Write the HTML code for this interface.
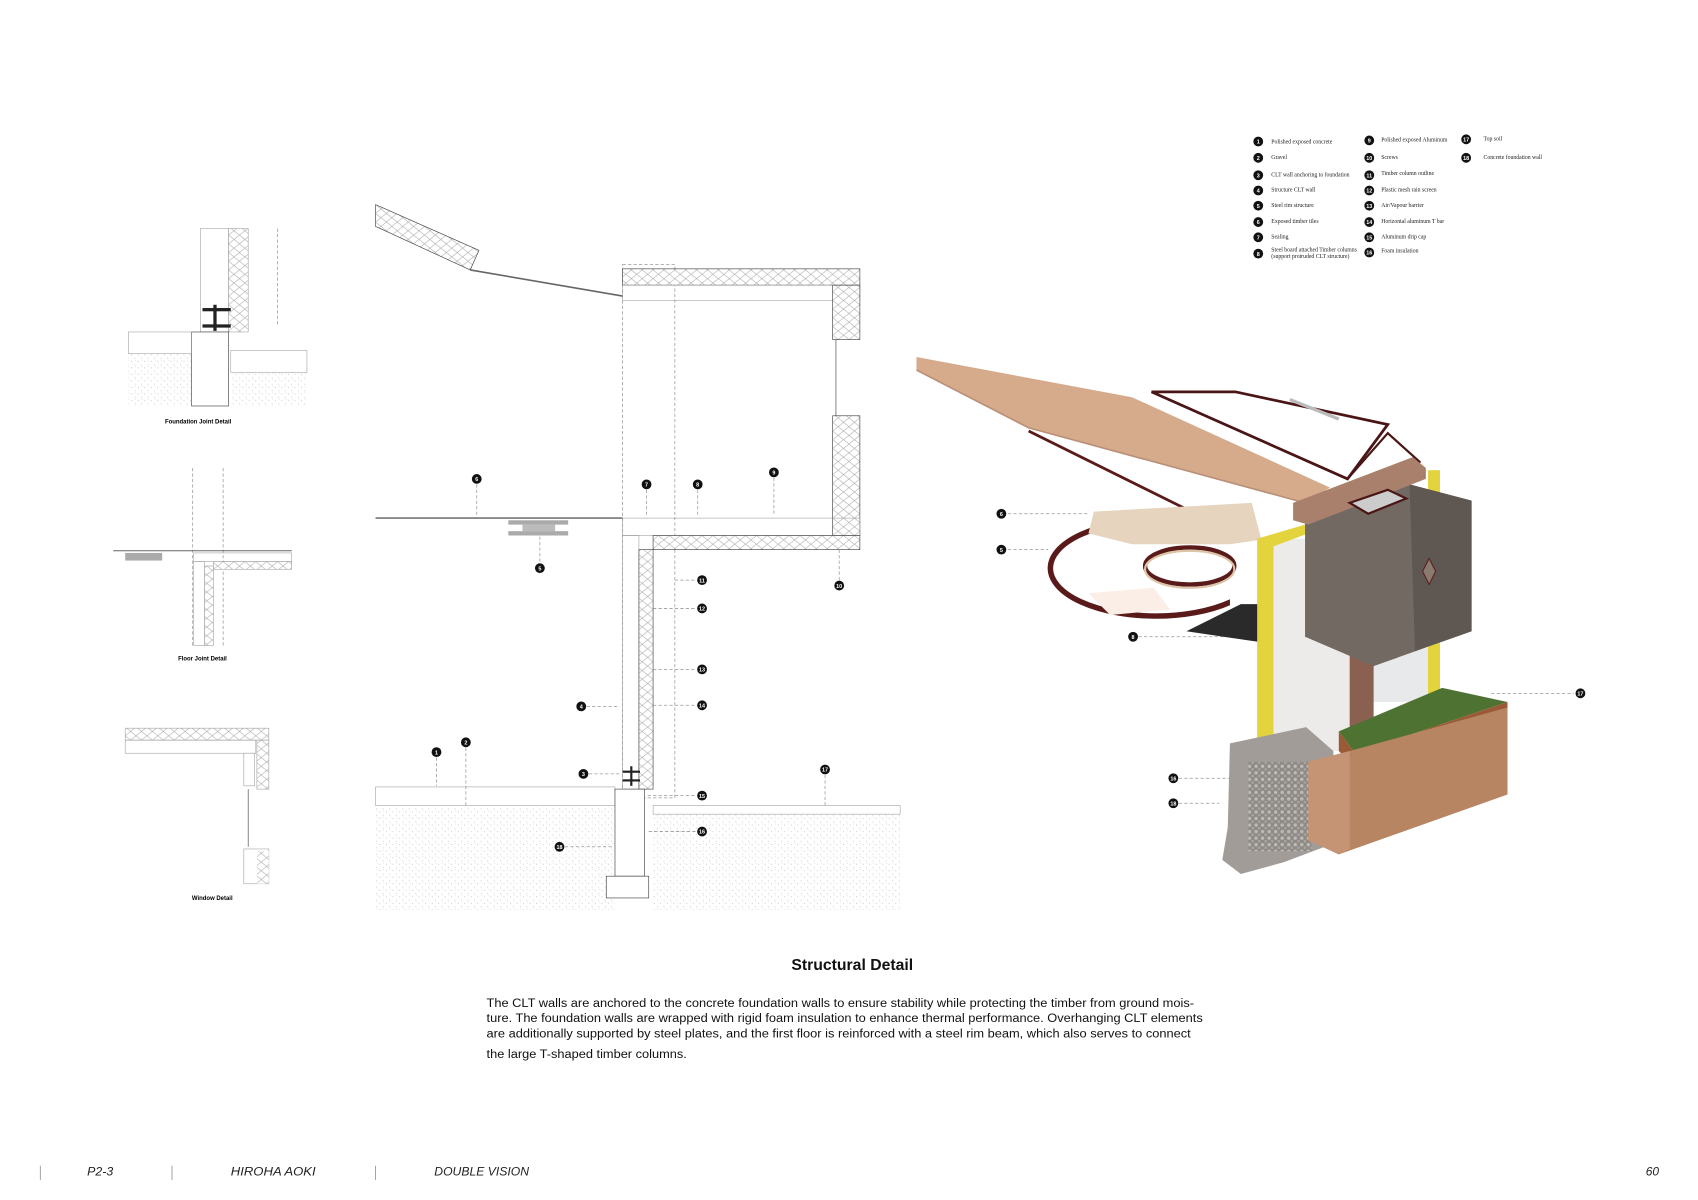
<!DOCTYPE html>
<html><head><meta charset="utf-8"><style>
html,body{margin:0;padding:0;background:#fff;}
svg{display:block;}
text{font-family:"Liberation Sans",sans-serif;}
.lg text{font-family:"Liberation Serif",serif;font-size:5.3px;fill:#222;}
.n text{font-family:"Liberation Sans",sans-serif;font-size:5px;fill:#fff;font-weight:bold;text-anchor:middle;}
.l{stroke:#444;stroke-width:0.6;}
.t{stroke:#999;stroke-width:0.5;}
.d{stroke:#999;stroke-width:0.7;stroke-dasharray:3 2;fill:none;}
.ft{font-size:11px;font-style:italic;fill:#222;}
</style></head><body>
<svg width="1698" height="1200" viewBox="0 0 1560 1102.5" xmlns="http://www.w3.org/2000/svg">
<defs>
<pattern id="zz" width="10" height="8" patternUnits="userSpaceOnUse"><rect width="10" height="8" fill="#fff"/><path d="M0 0 L10 8 M0 8 L10 0" stroke="#aaa" stroke-width="0.5"/></pattern>
<pattern id="st" width="6" height="6" patternUnits="userSpaceOnUse"><circle cx="1" cy="2" r="0.45" fill="#bbb"/><circle cx="4" cy="5" r="0.45" fill="#c4c4c4"/><circle cx="4.5" cy="1" r="0.35" fill="#bbb"/></pattern>
<pattern id="gr" width="6" height="6" patternUnits="userSpaceOnUse"><rect width="6" height="6" fill="#8d8a86"/><circle cx="2" cy="2" r="1.6" fill="#bdb9b4"/><circle cx="5" cy="5" r="1.4" fill="#a8a49f"/></pattern>
</defs>
<rect width="1560" height="1102.5" fill="#fff"/>

<!-- Left details -->
<g fill="none">
<rect x="184" y="210" width="26" height="95" class="t"/>
<rect x="210" y="210" width="18" height="95" fill="url(#zz)" class="t"/>
<line x1="255" y1="210" x2="255" y2="300" class="d"/>
<rect x="176" y="305" width="34" height="68" fill="#fff" class="l"/>
<rect x="186" y="283" width="26" height="3" fill="#222"/><rect x="186" y="298" width="26" height="3" fill="#222"/><rect x="196" y="280" width="3" height="24" fill="#222"/>
<rect x="118" y="305" width="58" height="20" class="t"/>
<rect x="118" y="325" width="58" height="48" fill="url(#st)"/>
<rect x="212" y="322" width="70" height="20" class="t"/>
<rect x="212" y="342" width="70" height="31" fill="url(#st)"/>
<line x1="177" y1="430" x2="177" y2="595" class="d"/><line x1="205" y1="430" x2="205" y2="595" class="d"/>
<line x1="104" y1="506" x2="268" y2="506" stroke="#666" stroke-width="1"/>
<rect x="115" y="508" width="34" height="7" fill="#aaa"/>
<rect x="178" y="508" width="90" height="8" class="t"/><rect x="196" y="516" width="72" height="7" fill="url(#zz)" class="t"/>
<rect x="178" y="516" width="10" height="77" class="t"/><rect x="188" y="520" width="8" height="73" fill="url(#zz)" class="t"/>
<rect x="115" y="669" width="132" height="11" fill="url(#zz)" class="t"/>
<rect x="115" y="680" width="120" height="12" class="t"/>
<rect x="236" y="680" width="11" height="45" fill="url(#zz)" class="t"/>
<rect x="224" y="692" width="10" height="30" class="t"/>
<line x1="228" y1="725" x2="228" y2="778" class="l"/>
<rect x="224" y="780" width="23" height="32" class="t"/><rect x="236" y="782" width="11" height="30" fill="url(#zz)"/>
</g>
<text x="182" y="389" font-size="5.5" font-weight="bold" text-anchor="middle">Foundation Joint Detail</text>
<text x="186" y="607" font-size="5.5" font-weight="bold" text-anchor="middle">Floor Joint Detail</text>
<text x="195" y="827" font-size="5.5" font-weight="bold" text-anchor="middle">Window Detail</text>

<!-- Main section -->
<g fill="none">
<polygon points="345,188 440,230 432,248 345,208" fill="url(#zz)" class="l"/>
<line x1="432" y1="248" x2="572" y2="272" stroke="#666" stroke-width="1.5"/>
<rect x="572" y="243" width="48" height="490" class="d"/>
<rect x="572" y="247" width="218" height="15" fill="url(#zz)" class="l"/>
<rect x="572" y="262" width="218" height="14" class="t"/>
<rect x="765" y="262" width="25" height="50" fill="url(#zz)" class="l"/>
<line x1="768" y1="312" x2="768" y2="382" class="l"/>
<rect x="765" y="382" width="25" height="110" fill="url(#zz)" class="l"/>
<line x1="345" y1="476" x2="572" y2="476" stroke="#777" stroke-width="1.5"/>
<rect x="467" y="478" width="55" height="4" fill="#aaa"/><rect x="480" y="482" width="30" height="6" fill="#bbb"/><rect x="467" y="488" width="55" height="4" fill="#aaa"/>
<rect x="572" y="476" width="218" height="16" class="t"/>
<rect x="600" y="492" width="190" height="13" fill="url(#zz)" class="l"/>
<rect x="572" y="492" width="15" height="233" class="t"/>
<rect x="587" y="505" width="13" height="220" fill="url(#zz)" class="l"/>
<rect x="572" y="708" width="16" height="2" fill="#222"/><rect x="572" y="716" width="16" height="2" fill="#222"/><rect x="579" y="704" width="2" height="18" fill="#222"/>
<rect x="345" y="723" width="220" height="17" class="t"/>
<rect x="345" y="740" width="220" height="96" fill="url(#st)"/>
<rect x="600" y="740" width="227" height="8" class="t"/>
<rect x="600" y="748" width="227" height="88" fill="url(#st)"/>
<rect x="565" y="725" width="27" height="80" fill="#fff" class="l"/>
<rect x="557" y="805" width="39" height="20" fill="#fff" class="l"/>
</g>
<g class="d">
<line x1="438" y1="445" x2="438" y2="474"/><line x1="594" y1="450" x2="594" y2="474"/><line x1="641" y1="450" x2="641" y2="474"/><line x1="711" y1="439" x2="711" y2="474"/>
<line x1="496" y1="493" x2="496" y2="517"/><line x1="771" y1="505" x2="771" y2="533"/>
<line x1="620" y1="533" x2="640" y2="533"/><line x1="600" y1="559" x2="640" y2="559"/><line x1="600" y1="615" x2="640" y2="615"/><line x1="600" y1="648" x2="640" y2="648"/>
<line x1="539" y1="649" x2="568" y2="649"/><line x1="401" y1="696" x2="401" y2="722"/><line x1="428" y1="687" x2="428" y2="740"/>
<line x1="541" y1="711" x2="570" y2="711"/><line x1="595" y1="731" x2="640" y2="731"/><line x1="758" y1="712" x2="758" y2="740"/>
<line x1="596" y1="764" x2="640" y2="764"/><line x1="519" y1="778" x2="562" y2="778"/>
<line x1="926" y1="472" x2="1000" y2="472"/><line x1="926" y1="505" x2="963" y2="505"/><line x1="1046" y1="585" x2="1130" y2="585"/>
<line x1="1083" y1="715" x2="1145" y2="715"/><line x1="1083" y1="738" x2="1120" y2="738"/><line x1="1370" y1="637" x2="1446" y2="637"/>
</g>

<!-- Render -->
<g>
<polyline points="945,396 1159,502" fill="none" stroke="#5a1a1a" stroke-width="2.5"/>
<polygon points="842,328 1040,365 1222,448 1199,462 945,393 842,340" fill="#d6ab8c"/>
<polyline points="842,340 945,393 1199,462" fill="none" stroke="#b89078" stroke-width="1.5"/>
<polygon points="1058,360 1135,360 1275,390 1238,440" fill="none" stroke="#4a1515" stroke-width="2.5"/>
<line x1="1185" y1="367" x2="1230" y2="385" stroke="#bbb" stroke-width="3"/>
<polyline points="1238,440 1275,398 1305,425" fill="none" stroke="#4a1515" stroke-width="2"/>
<ellipse cx="1062" cy="522" rx="97" ry="44" fill="none" stroke="#5a1a1a" stroke-width="5"/>
<polygon points="1005,470 1150,462 1160,500 1040,500 1000,490" fill="#e6d4be"/>
<polygon points="1130,500 1165,495 1165,560 1130,560" fill="#fff"/>
<ellipse cx="1093" cy="520" rx="41" ry="17" fill="none" stroke="#5a1a1a" stroke-width="4"/>
<ellipse cx="1093" cy="523" rx="41" ry="17" fill="none" stroke="#dcc4a8" stroke-width="2"/>
<polygon points="1000,545 1060,540 1075,560 1020,565" fill="#fbeee6"/>
<polygon points="1090,580 1140,555 1158,555 1158,590" fill="#2a2a2a"/>
<rect x="1169" y="495" width="75" height="195" fill="#ecebea"/>
<rect x="1244" y="595" width="70" height="50" fill="#e8e9eb"/>
<rect x="1240" y="595" width="22" height="73" fill="#8a6050"/>
<polygon points="1155,495 1199,482 1202,490 1170,502 1170,692 1155,692" fill="#e3d33c"/>
<rect x="1312" y="432" width="11" height="258" fill="#e3d33c"/>
<polygon points="1199,480 1295,445 1352,460 1352,580 1262,612 1199,585" fill="#736963"/>
<polygon points="1295,445 1352,460 1352,580 1300,598" fill="#5f5752"/>
<polygon points="1188,462 1298,420 1310,430 1310,440 1202,482 1188,478" fill="#a8806c"/>
<polygon points="1240,462 1275,450 1292,458 1257,472" fill="#ccc" stroke="#4a1515" stroke-width="2"/>
<polygon points="1313,513 1319,525 1313,537 1307,525" fill="#8a7a70" stroke="#5a2020"/>
<polygon points="1230,672 1325,632 1385,645 1245,692" fill="#4e7232"/>
<polygon points="1230,672 1245,692 1385,645 1385,660 1245,705 1230,690" fill="#9b5a36"/>
<polygon points="1130,683 1200,668 1225,690 1225,775 1180,792 1140,803 1123,790 1128,760" fill="#a19c97"/>
<rect x="1147" y="700" width="58" height="82" fill="url(#gr)"/>
<polygon points="1202,700 1240,690 1385,650 1385,730 1230,785 1202,772" fill="#b78562"/>
<polygon points="1202,700 1240,690 1240,780 1230,785 1202,772" fill="#c49474"/>
</g>

<!-- Numbers -->
<g fill="#111">
<circle cx="438" cy="440" r="4.5"/><circle cx="594" cy="445" r="4.5"/><circle cx="641" cy="445" r="4.5"/><circle cx="711" cy="434" r="4.5"/>
<circle cx="496" cy="522" r="4.5"/><circle cx="771" cy="538" r="4.5"/><circle cx="645" cy="533" r="4.5"/><circle cx="645" cy="559" r="4.5"/>
<circle cx="645" cy="615" r="4.5"/><circle cx="645" cy="648" r="4.5"/><circle cx="534" cy="649" r="4.5"/><circle cx="401" cy="691" r="4.5"/>
<circle cx="428" cy="682" r="4.5"/><circle cx="536" cy="711" r="4.5"/><circle cx="645" cy="731" r="4.5"/><circle cx="758" cy="707" r="4.5"/>
<circle cx="645" cy="764" r="4.5"/><circle cx="514" cy="778" r="4.5"/>
<circle cx="920" cy="472" r="4.5"/><circle cx="920" cy="505" r="4.5"/><circle cx="1041" cy="585" r="4.5"/><circle cx="1078" cy="715" r="4.5"/><circle cx="1078" cy="738" r="4.5"/><circle cx="1452" cy="637" r="4.5"/>
<circle cx="1156" cy="130" r="4.5"/><circle cx="1156" cy="145" r="4.5"/><circle cx="1156" cy="161" r="4.5"/><circle cx="1156" cy="175" r="4.5"/><circle cx="1156" cy="189" r="4.5"/><circle cx="1156" cy="204" r="4.5"/><circle cx="1156" cy="218" r="4.5"/><circle cx="1156" cy="233" r="4.5"/>
<circle cx="1258" cy="129" r="4.5"/><circle cx="1258" cy="145" r="4.5"/><circle cx="1258" cy="161" r="4.5"/><circle cx="1258" cy="175" r="4.5"/><circle cx="1258" cy="189" r="4.5"/><circle cx="1258" cy="204" r="4.5"/><circle cx="1258" cy="218" r="4.5"/><circle cx="1258" cy="232" r="4.5"/>
<circle cx="1347" cy="128" r="4.5"/><circle cx="1347" cy="145" r="4.5"/>
</g>
<g class="n">
<text x="438" y="442">6</text><text x="594" y="447">7</text><text x="641" y="447">8</text><text x="711" y="436">9</text>
<text x="496" y="524">5</text><text x="771" y="540">10</text><text x="645" y="535">11</text><text x="645" y="561">12</text>
<text x="645" y="617">13</text><text x="645" y="650">14</text><text x="534" y="651">4</text><text x="401" y="693">1</text>
<text x="428" y="684">2</text><text x="536" y="713">3</text><text x="645" y="733">15</text><text x="758" y="709">17</text>
<text x="645" y="766">16</text><text x="514" y="780">18</text>
<text x="920" y="474">6</text><text x="920" y="507">5</text><text x="1041" y="587">8</text><text x="1078" y="717">16</text><text x="1078" y="740">18</text><text x="1452" y="639">17</text>
<text x="1156" y="132">1</text><text x="1156" y="147">2</text><text x="1156" y="163">3</text><text x="1156" y="177">4</text><text x="1156" y="191">5</text><text x="1156" y="206">6</text><text x="1156" y="220">7</text><text x="1156" y="235">8</text>
<text x="1258" y="131">9</text><text x="1258" y="147">10</text><text x="1258" y="163">11</text><text x="1258" y="177">12</text><text x="1258" y="191">13</text><text x="1258" y="206">14</text><text x="1258" y="220">15</text><text x="1258" y="234">16</text>
<text x="1347" y="130">17</text><text x="1347" y="147">18</text>
</g>
<g class="lg">
<text x="1168" y="132">Polished exposed concrete</text><text x="1168" y="146">Gravel</text><text x="1168" y="162">CLT wall anchoring to foundation</text><text x="1168" y="176">Structure CLT wall</text><text x="1168" y="190">Steel rim structure</text><text x="1168" y="205">Exposed timber tiles</text><text x="1168" y="219">Sealing</text><text x="1168" y="231">Steel board attached Timber columns</text><text x="1168" y="237">(support protruded CLT structure)</text>
<text x="1269" y="130">Polished exposed Aluminum</text><text x="1269" y="146">Screws</text><text x="1269" y="161">Timber column outline</text><text x="1269" y="176">Plastic mesh rain screen</text><text x="1269" y="190">Air/Vapour barrier</text><text x="1269" y="205">Horizontal aluminum T bar</text><text x="1269" y="219">Aluminum drip cap</text><text x="1269" y="232">Foam insulation</text>
<text x="1363" y="129">Top soil</text><text x="1363" y="146">Concrete foundation wall</text>
</g>

<!-- Text -->
<text x="783" y="891" font-size="14.5" font-weight="bold" text-anchor="middle" fill="#111">Structural Detail</text>
<g font-size="11.3" fill="#111">
<text x="447" y="925" textLength="650" lengthAdjust="spacingAndGlyphs">The CLT walls are anchored to the concrete foundation walls to ensure stability while protecting the timber from ground mois-</text>
<text x="447" y="939" textLength="658" lengthAdjust="spacingAndGlyphs">ture. The foundation walls are wrapped with rigid foam insulation to enhance thermal performance. Overhanging CLT elements</text>
<text x="447" y="953" textLength="647" lengthAdjust="spacingAndGlyphs">are additionally supported by steel plates, and the first floor is reinforced with a steel rim beam, which also serves to connect</text>
<text x="447" y="972" textLength="184" lengthAdjust="spacingAndGlyphs">the large T-shaped timber columns.</text>
</g>

<!-- Footer -->
<g stroke="#888" stroke-width="0.7"><line x1="37" y1="1071" x2="37" y2="1084"/><line x1="158" y1="1071" x2="158" y2="1084"/><line x1="345" y1="1071" x2="345" y2="1084"/></g>
<text x="80" y="1080" class="ft" textLength="24" lengthAdjust="spacingAndGlyphs">P2-3</text>
<text x="212" y="1080" class="ft" textLength="78" lengthAdjust="spacingAndGlyphs">HIROHA   AOKI</text>
<text x="399" y="1080" class="ft" textLength="87" lengthAdjust="spacingAndGlyphs">DOUBLE VISION</text>
<text x="1512" y="1080" class="ft">60</text>
</svg>
</body></html>
